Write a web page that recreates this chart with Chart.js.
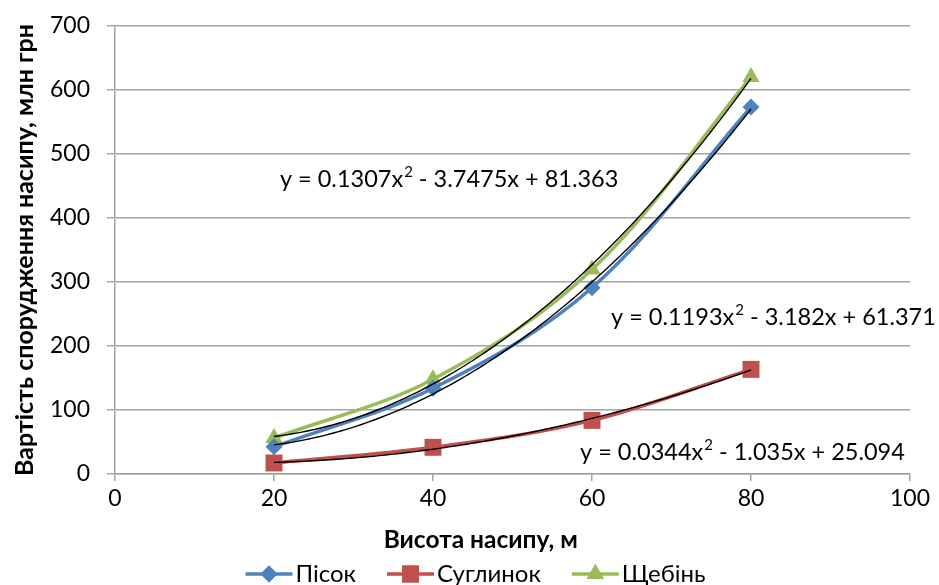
<!DOCTYPE html>
<html>
<head>
<meta charset="utf-8">
<script src="https://cdn.jsdelivr.net/npm/chart.js@4.4.1/dist/chart.umd.min.js"></script>
<style>
  html, body { margin: 0; padding: 0; background: #fff; }
  #wrap { width: 939px; height: 585px; position: relative; }
</style>
</head>
<body>
<div id="wrap"><canvas id="c" width="939" height="585"></canvas></div>
<script>
// Embankment height, m
const heights = [20, 40, 60, 80];

// Construction cost, mln UAH
const sand  = [42.5, 134, 291, 573.3];   // Пісок
const loam  = [17.2, 41.7, 83.8, 163.5]; // Суглинок
const gravel = [56.2, 148.1, 319.5, 620.5]; // Щебінь

const seriesNames = ['Пісок', 'Суглинок', 'Щебінь'];

// Polynomial trend coefficients [a, b, c] for y = a·x² + b·x + c
const sandTrend   = [0.1193, -3.182, 61.371];
const loamTrend   = [0.0344, -1.035, 25.094];
const gravelTrend = [0.1307, -3.7475, 81.363];

const xTicks = [0, 20, 40, 60, 80, 100];
const yTicks = [0, 100, 200, 300, 400, 500, 600, 700];

const xTitle = 'Висота насипу, м';
const yTitle = 'Вартість спорудження насипу, млн грн';

const FONT = 'Lato';
const colors = { sand: '#4F81BD', loam: '#C0504D', gravel: '#9BBB59' };

function pts(ys) { return heights.map((x, i) => ({ x, y: ys[i] })); }

function trendPoints(coef) {
  const out = [];
  for (let x = heights[0]; x <= heights[heights.length - 1] + 1e-9; x += 0.5) {
    out.push({ x, y: coef[0] * x * x + coef[1] * x + coef[2] });
  }
  return out;
}

// Equation text split into pieces; the squared term gets a raised "2"
function equationParts(coef) {
  const sign = v => (v < 0 ? ' - ' : ' + ');
  return [
    { t: 'y = ' + Math.abs(coef[0]) + 'x' },
    { t: '2', sup: true },
    { t: sign(coef[1]) + Math.abs(coef[1]) + 'x' + sign(coef[2]) + Math.abs(coef[2]) }
  ];
}

function series(label, data, color, style, radius) {
  return {
    label, data: pts(data), borderColor: color, backgroundColor: color,
    borderWidth: 3.5, tension: 0.35, pointStyle: style, pointRadius: radius,
    pointBorderWidth: 0, pointBackgroundColor: color, order: 1, isSeries: true
  };
}
function trend(coef) {
  return {
    data: trendPoints(coef), borderColor: '#000', borderWidth: 1.4,
    pointRadius: 0, tension: 0, order: 0, isSeries: false
  };
}

// Equation labels, anchored at the left edge / vertical middle (in data units)
const equationLabels = [
  { coef: gravelTrend, x: 20.75, y: 460 },
  { coef: sandTrend,   x: 62.4,  y: 245 },
  { coef: loamTrend,   x: 58.5,  y: 33.5 }
];

const EQ_SIZE = 23.5;
const equationPlugin = {
  id: 'equations',
  afterDatasetsDraw(chart) {
    const { ctx, scales: { x, y } } = chart;
    ctx.save();
    ctx.fillStyle = '#000';
    ctx.textAlign = 'left';
    ctx.textBaseline = 'middle';
    equationLabels.forEach(l => {
      let px = x.getPixelForValue(l.x);
      const py = y.getPixelForValue(l.y);
      equationParts(l.coef).forEach(p => {
        if (p.sup) {
          ctx.font = Math.round(EQ_SIZE * 0.62) + 'px ' + FONT;
          ctx.fillText(p.t, px + 1, py - EQ_SIZE * 0.3);
          px += ctx.measureText(p.t).width + 1;
        } else {
          ctx.font = EQ_SIZE + 'px ' + FONT;
          ctx.fillText(p.t, px, py);
          px += ctx.measureText(p.t).width;
        }
      });
    });
    ctx.restore();
  }
};

// Horizontal axis title, centred on x = 46 of the value scale
const xTitlePlugin = {
  id: 'xTitle',
  afterDraw(chart) {
    const { ctx, scales: { x } } = chart;
    ctx.save();
    ctx.font = 'bold 24.5px ' + FONT;
    ctx.fillStyle = '#000';
    ctx.textAlign = 'center';
    ctx.textBaseline = 'middle';
    ctx.fillText(xTitle, x.getPixelForValue(46), 540);
    ctx.restore();
  }
};

// Legend: line sample with marker, followed by the series name
const legendPlugin = {
  id: 'lineLegend',
  afterDraw(chart) {
    const { ctx } = chart;
    const items = chart.data.datasets.filter(d => d.isSeries);
    const sample = 47, gap = 3, spacing = 31, cy = 574;
    ctx.save();
    ctx.font = '24px ' + FONT;
    const widths = items.map(d => sample + gap + ctx.measureText(d.label).width);
    const total = widths.reduce((a, b) => a + b, 0) + spacing * (items.length - 1);
    let x0 = chart.width / 2 - total / 2 + 6;
    items.forEach((d, i) => {
      ctx.strokeStyle = d.borderColor;
      ctx.lineWidth = 3.5;
      ctx.beginPath();
      ctx.moveTo(x0, cy);
      ctx.lineTo(x0 + sample, cy);
      ctx.stroke();
      ctx.fillStyle = d.borderColor;
      Chart.helpers.drawPoint(ctx, { pointStyle: d.pointStyle, radius: d.pointRadius, rotation: 0, borderWidth: 0 }, x0 + sample / 2, cy);
      ctx.fill();
      ctx.fillStyle = '#000';
      ctx.textAlign = 'left';
      ctx.textBaseline = 'middle';
      ctx.fillText(d.label, x0 + sample + gap, cy);
      x0 += widths[i] + spacing;
    });
    ctx.restore();
  }
};

const gridColor = '#a3a3a3';

new Chart(document.getElementById('c'), {
  type: 'line',
  data: {
    datasets: [
      series(seriesNames[0], sand, colors.sand, 'rectRot', 8.5),
      series(seriesNames[1], loam, colors.loam, 'rect', 12),
      series(seriesNames[2], gravel, colors.gravel, 'triangle', 10),
      trend(sandTrend),
      trend(loamTrend),
      trend(gravelTrend)
    ]
  },
  options: {
    responsive: false,
    animation: false,
    layout: { padding: { top: 26, right: 29, bottom: 21, left: 0 } },
    plugins: { legend: { display: false }, tooltip: { enabled: false } },
    scales: {
      x: {
        type: 'linear', min: xTicks[0], max: xTicks[xTicks.length - 1],
        afterBuildTicks: s => { s.ticks = xTicks.map(v => ({ value: v })); },
        afterFit: s => { s.height = 90; },
        ticks: { font: { family: FONT, size: 23 }, color: '#000', padding: 4 },
        grid: { drawOnChartArea: false, drawTicks: true, tickLength: 7, color: gridColor, lineWidth: 1.5 },
        border: { display: true, color: gridColor, width: 1.5 },
        title: { display: false }
      },
      y: {
        type: 'linear', min: yTicks[0], max: yTicks[yTicks.length - 1],
        afterBuildTicks: s => { s.ticks = yTicks.map(v => ({ value: v })); },
        afterFit: s => { s.width = 115; s.paddingTop = 14; s.paddingBottom = 14; },
        ticks: { font: { family: FONT, size: 23 }, color: '#000', padding: 17 },
        grid: { drawTicks: true, tickLength: 8, color: gridColor, lineWidth: 1.5 },
        border: { display: true, color: gridColor, width: 1.5 },
        title: { display: true, text: yTitle, color: '#000',
                 font: { family: FONT, size: 25, weight: 'bold' }, padding: { top: 10, bottom: 0 } }
      }
    }
  },
  plugins: [equationPlugin, xTitlePlugin, legendPlugin]
});
</script>
</body>
</html>
